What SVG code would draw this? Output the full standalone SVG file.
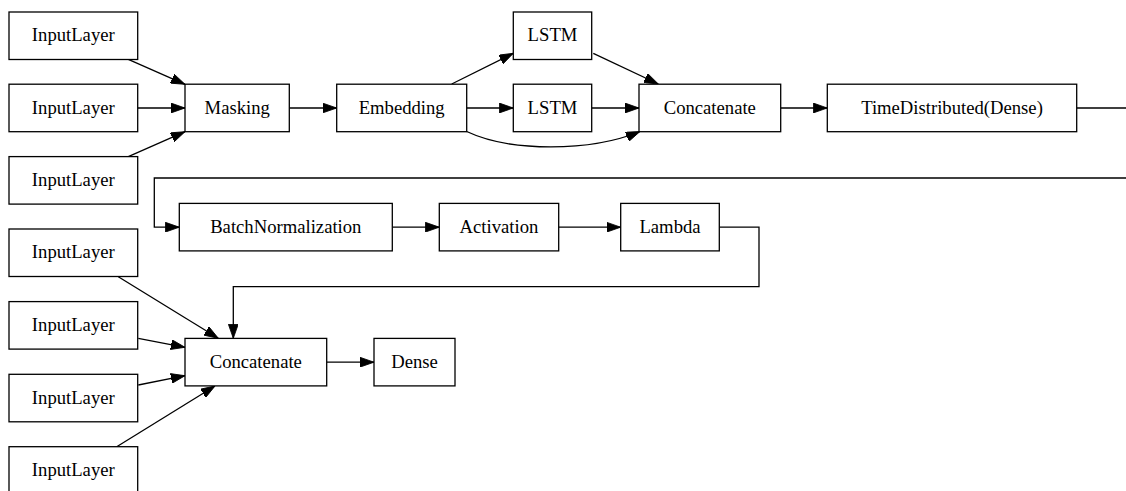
<svg xmlns="http://www.w3.org/2000/svg" width="1126" height="491" viewBox="0 0 1126 491">
<style>
.n rect{fill:#fff;stroke:#000;stroke-width:1.3}
.n text{font-family:"Liberation Serif","Times New Roman",serif;font-size:18.67px;fill:#000;text-anchor:middle}
.e path{fill:none;stroke:#000;stroke-width:1.3;marker-end:url(#ah)}
</style>
<defs>
<marker id="ah" markerUnits="userSpaceOnUse" markerWidth="14" markerHeight="10" viewBox="0 0 13.33 9.33" refX="13.33" refY="4.67" orient="auto">
<path d="M0,0 L13.33,4.67 L0,9.33 z" fill="#000" stroke="#000" stroke-width="0.8"/>
</marker>
</defs>
<rect width="1126" height="491" fill="#fff"/>
<g class="e" id="edges">
<path d="M128.3,59.3 L185,84.3"/>
<path d="M137.7,108 L185,108"/>
<path d="M128.3,156.7 L185,131.7"/>
<path d="M289.3,108 L336.7,108"/>
<path d="M451.7,84 L513.3,53.3"/>
<path d="M466.7,108 L513.3,108"/>
<path d="M466.7,131.5 C510,152 590,152 640,131.5"/>
<path d="M593.3,53.3 L658.3,84"/>
<path d="M591.7,108 L639,108"/>
<path d="M780.7,108 L827.3,108"/>
<path d="M1076.7,108 L1140,108 L1140,178 L154.3,178 L154.3,227.2 L179.3,227.2"/>
<path d="M392.3,227.2 L439.3,227.2"/>
<path d="M558.7,227.2 L620.7,227.2"/>
<path d="M719.3,227.2 L759,227.2 L759,286.7 L233.3,286.7 L233.3,338.3"/>
<path d="M118.3,276.7 L218.3,338.3"/>
<path d="M138.3,338.3 L185,347.3"/>
<path d="M138.3,385 L185,375.7"/>
<path d="M116.7,446.7 L215,386"/>
<path d="M326.7,362.2 L374,362.2"/>
</g>
<g class="n" id="input1"><rect x="9" y="12" width="128.7" height="47.5"/><text x="73.3" y="41.2">InputLayer</text></g>
<g class="n" id="input2"><rect x="9" y="84.2" width="128.7" height="47.5"/><text x="73.3" y="113.5">InputLayer</text></g>
<g class="n" id="input3"><rect x="9" y="156.6" width="128.7" height="47.5"/><text x="73.3" y="185.8">InputLayer</text></g>
<g class="n" id="masking"><rect x="185" y="84.2" width="104.3" height="47.5"/><text x="237.2" y="113.5">Masking</text></g>
<g class="n" id="embedding"><rect x="336.7" y="84.2" width="130" height="47.5"/><text x="401.7" y="113.5">Embedding</text></g>
<g class="n" id="lstm1"><rect x="513.3" y="12" width="78.4" height="47.5"/><text x="552.5" y="41.2">LSTM</text></g>
<g class="n" id="lstm2"><rect x="513.3" y="84.2" width="78.4" height="47.5"/><text x="552.5" y="113.5">LSTM</text></g>
<g class="n" id="concat1"><rect x="639" y="84.2" width="141.7" height="47.5"/><text x="709.8" y="113.5">Concatenate</text></g>
<g class="n" id="timedist"><rect x="827.3" y="84.2" width="249.4" height="47.5"/><text x="952" y="113.5">TimeDistributed(Dense)</text></g>
<g class="n" id="batchnorm"><rect x="179.3" y="203.4" width="213" height="47.5"/><text x="285.8" y="232.7">BatchNormalization</text></g>
<g class="n" id="activation"><rect x="439.3" y="203.4" width="119.4" height="47.5"/><text x="499" y="232.7">Activation</text></g>
<g class="n" id="lambda"><rect x="620.7" y="203.4" width="98.6" height="47.5"/><text x="670" y="232.7">Lambda</text></g>
<g class="n" id="input4"><rect x="9" y="229" width="128.7" height="47.5"/><text x="73.3" y="258.3">InputLayer</text></g>
<g class="n" id="input5"><rect x="9" y="301.6" width="128.7" height="47.5"/><text x="73.3" y="330.8">InputLayer</text></g>
<g class="n" id="input6"><rect x="9" y="374.3" width="128.7" height="47.5"/><text x="73.3" y="403.6">InputLayer</text></g>
<g class="n" id="input7"><rect x="9" y="446.7" width="128.7" height="47.5"/><text x="73.3" y="475.8">InputLayer</text></g>
<g class="n" id="concat2"><rect x="185" y="338.4" width="141.7" height="47.5"/><text x="255.8" y="367.7">Concatenate</text></g>
<g class="n" id="dense"><rect x="374" y="338.4" width="81" height="47.5"/><text x="414.5" y="367.7">Dense</text></g>
</svg>
